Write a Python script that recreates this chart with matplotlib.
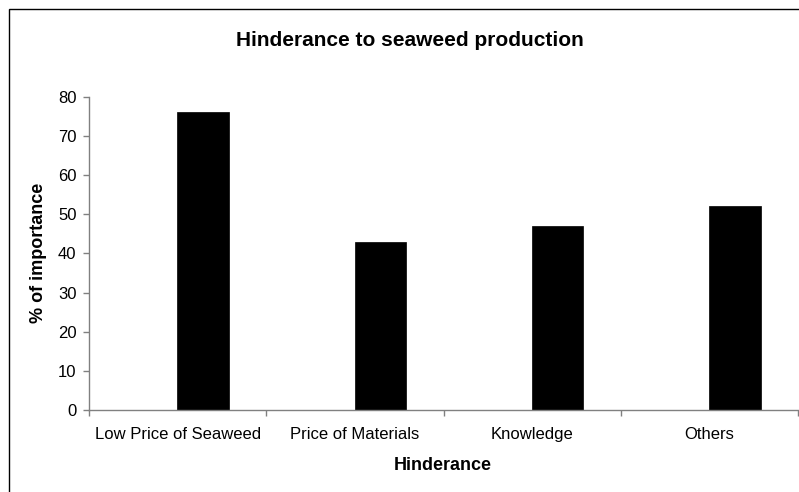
import numpy as np
import matplotlib.pyplot as plt
from matplotlib.patches import Rectangle

plt.rcParams['font.family'] = ['Liberation Sans', 'DejaVu Sans']

categories = ['Low Price of Seaweed', 'Price of Materials', 'Knowledge', 'Others']
importance = [76, 43, 47, 52]

W, H = 799, 492
fig = plt.figure(figsize=(W / 100, H / 100), dpi=100)
ax = fig.add_axes([89 / W, 1 - 410 / H, 709 / W, (410 - 96.7) / H])

x = np.arange(len(categories))
# Excel-style: bar sits right of slot centre
ax.bar(x + 0.144, importance, width=0.29, color='black', edgecolor='black', linewidth=0.5)

ax.set_xlim(-0.5, len(categories) - 0.5)
ax.set_ylim(0, 80)
ax.set_yticks(np.arange(0, 81, 10))
ax.set_xticks(np.arange(-0.5, len(categories), 1.0))
ax.set_xticklabels([])
ax.set_xticks(x, minor=True)
ax.set_xticklabels(categories, minor=True)
ax.tick_params(axis='x', which='minor', length=0, pad=12, labelsize=12)
ax.tick_params(axis='both', which='major', direction='out', length=4, color='#808080', width=1, labelsize=12)
ax.tick_params(axis='y', pad=5)

for s in ['top', 'right']:
    ax.spines[s].set_visible(False)
for s in ['left', 'bottom']:
    ax.spines[s].set_color('#808080')
    ax.spines[s].set_linewidth(1)

fig.text(443 / W, 1 - 465 / H, 'Hinderance', fontweight='bold', fontsize=13,
         ha='center', va='center')
fig.text(38.5 / W, 1 - 253 / H, '% of importance', fontweight='bold', fontsize=13,
         ha='center', va='center', rotation=90)
fig.text(410 / W, 1 - 40 / H, 'Hinderance to seaweed production', fontweight='bold',
         fontsize=15, ha='center', va='center')

fig.patches.append(Rectangle((9 / W, -0.1), 1.1, 1 - 9 / H + 0.1, transform=fig.transFigure,
                             fill=False, edgecolor='black', linewidth=1))

fig.savefig('out.png', dpi=100)
